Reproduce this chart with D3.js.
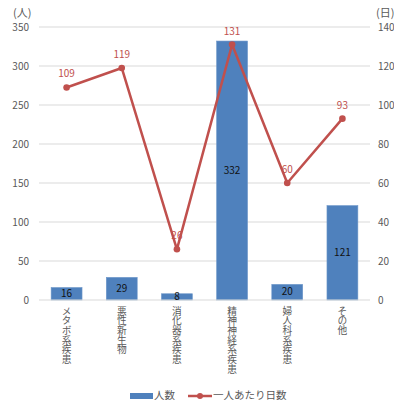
<!DOCTYPE html>
<html>
<head>
<meta charset="utf-8">
<script src="https://cdn.jsdelivr.net/npm/d3@7"></script>
<style>
  html, body { margin: 0; padding: 0; background: #fff; }
  svg { display: block; }
  .vlabel { writing-mode: vertical-rl; text-orientation: upright; }
</style>
</head>
<body>
<svg id="chart" width="394" height="401"></svg>
<script>
// Disease categories
const categories = ["メタボ系疾患", "悪性新生物", "消化器系疾患", "精神神経系疾患", "婦人科系疾患", "その他"];
// Number of people (left axis)
const people = [16, 29, 8, 332, 20, 121];
// Days per person (right axis)
const daysPerPerson = [109, 119, 26, 131, 60, 93];
const leftTicks = [0, 50, 100, 150, 200, 250, 300, 350];
const rightTicks = [0, 20, 40, 60, 80, 100, 120, 140];
const seriesNames = ["人数", "一人あたり日数"];

const svg = d3.select("#chart");
const font = "'Noto Sans CJK JP', 'Noto Sans', sans-serif";
const barColor = "#4f81bd";
const lineColor = "#c0504d";
const textGray = "#595959";

const plot = { left: 39, right: 370, top: 27, bottom: 300 };

const x = d3.scaleBand().domain(categories).range([plot.left, plot.right]).paddingInner(0.44).paddingOuter(0.22);
const yL = d3.scaleLinear().domain([0, 350]).range([plot.bottom, plot.top]);
const yR = d3.scaleLinear().domain([0, 140]).range([plot.bottom, plot.top]);

// Gridlines
svg.append("g").selectAll("line").data(leftTicks.slice(1)).join("line")
  .attr("x1", plot.left).attr("x2", plot.right)
  .attr("y1", d => yL(d)).attr("y2", d => yL(d))
  .attr("stroke", "#d9d9d9").attr("stroke-width", 1);

// Left axis
const axL = svg.append("g").attr("transform", `translate(${plot.left},0)`)
  .call(d3.axisLeft(yL).tickValues(leftTicks).tickSize(0).tickPadding(10));
axL.select(".domain").remove();
axL.selectAll("text").attr("font-family", font).attr("font-size", 10).attr("fill", textGray);

// Right axis
const axR = svg.append("g").attr("transform", `translate(${plot.right},0)`)
  .call(d3.axisRight(yR).tickValues(rightTicks).tickSize(0).tickPadding(8));
axR.select(".domain").remove();
axR.selectAll("text").attr("font-family", font).attr("font-size", 10).attr("fill", textGray);

// Unit labels
svg.append("text").attr("x", 13).attr("y", 17).text("(人)")
  .attr("font-family", font).attr("font-size", 11).attr("fill", textGray);
svg.append("text").attr("x", 376).attr("y", 17).text("(日)")
  .attr("font-family", font).attr("font-size", 11).attr("fill", textGray);

// Bars
svg.append("g").selectAll("rect").data(people).join("rect")
  .attr("x", (d, i) => x(categories[i]))
  .attr("width", x.bandwidth())
  .attr("y", d => yL(d))
  .attr("height", d => yL(0) - yL(d))
  .attr("fill", barColor)
  .attr("stroke", "#6d96c9").attr("stroke-width", 0.6);

// Baseline
svg.append("line").attr("x1", plot.left).attr("x2", plot.right)
  .attr("y1", plot.bottom).attr("y2", plot.bottom)
  .attr("stroke", "#d9d9d9").attr("stroke-width", 1);

// Bar value labels (centered in bar)
svg.append("g").selectAll("text").data(people).join("text")
  .attr("x", (d, i) => x(categories[i]) + x.bandwidth() / 2)
  .attr("y", d => (yL(d) + yL(0)) / 2)
  .attr("dy", "0.3em")
  .attr("text-anchor", "middle")
  .attr("font-family", font).attr("font-size", 10).attr("fill", "#111")
  .text(d => d);

// Line series
const cx = i => x(categories[i]) + x.bandwidth() / 2;
const line = d3.line().x((d, i) => cx(i)).y(d => yR(d));
svg.append("path").datum(daysPerPerson)
  .attr("d", line).attr("fill", "none")
  .attr("stroke", lineColor).attr("stroke-width", 2.5).attr("stroke-linejoin", "round");
svg.append("g").selectAll("circle").data(daysPerPerson).join("circle")
  .attr("cx", (d, i) => cx(i)).attr("cy", d => yR(d)).attr("r", 3.3)
  .attr("fill", lineColor);
svg.append("g").selectAll("text").data(daysPerPerson).join("text")
  .attr("x", (d, i) => cx(i)).attr("y", d => yR(d) - 10)
  .attr("text-anchor", "middle")
  .attr("font-family", font).attr("font-size", 10).attr("fill", lineColor)
  .text(d => d);

// Vertical category labels, one upright glyph per 9.7px
svg.append("g").selectAll("text").data(categories).join("text")
  .attr("class", "vlabel")
  .attr("x", (d, i) => cx(i)).attr("y", 306)
  .attr("font-family", font).attr("font-size", 9.7).attr("fill", textGray)
  .attr("textLength", d => Array.from(d).length * 9.7)
  .attr("lengthAdjust", "spacing")
  .text(d => d);

// Legend
const lg = svg.append("g").attr("font-family", font).attr("font-size", 10.5).attr("fill", textGray);
lg.append("rect").attr("x", 130).attr("y", 393).attr("width", 23).attr("height", 6).attr("fill", barColor);
lg.append("text").attr("x", 154).attr("y", 399).text(seriesNames[0]);
lg.append("line").attr("x1", 188).attr("x2", 212).attr("y1", 396).attr("y2", 396)
  .attr("stroke", lineColor).attr("stroke-width", 2.5);
lg.append("circle").attr("cx", 200).attr("cy", 396).attr("r", 3).attr("fill", lineColor);
lg.append("text").attr("x", 213).attr("y", 399).text(seriesNames[1]);
</script>
</body>
</html>
